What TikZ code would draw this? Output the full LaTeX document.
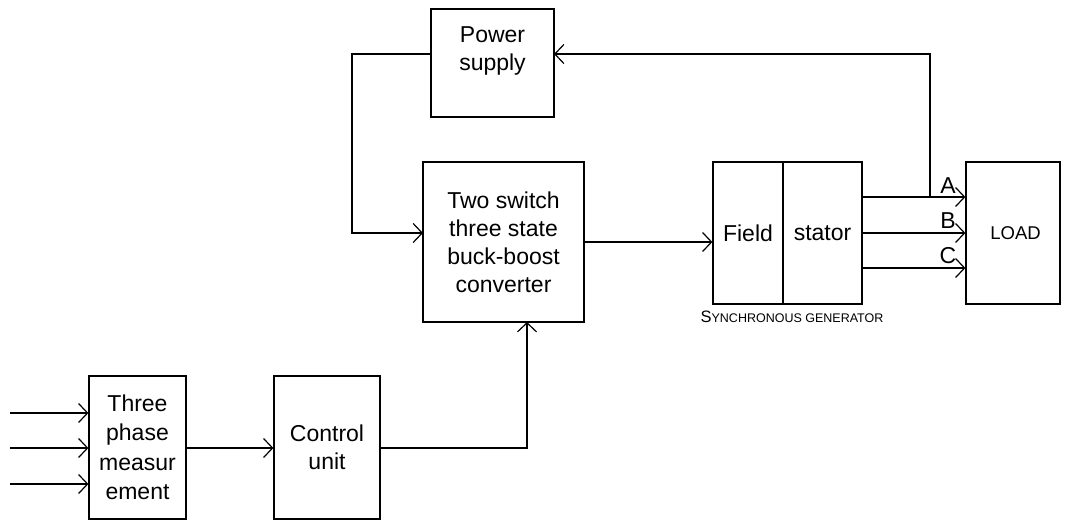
\documentclass[tikz,border=0pt]{standalone}
\usepackage{fontspec}
\setmainfont{Liberation Sans}
\usetikzlibrary{positioning,calc,arrows.meta}

\begin{document}
\begin{tikzpicture}[
    x=1pt,
    y=-1pt,
    font=\fontsize{23}{28}\selectfont,
    >={Straight Barb[length=9pt,width=19pt]},
    block/.style={
        draw,
        line width=1.2pt,
        inner sep=0pt,
        align=center
    },
    arrow/.style={
        ->,
        line width=1.2pt
    }
]
\useasboundingbox (0,0) rectangle (1067,520);

% power path
\node[block, minimum width=123pt, minimum height=108pt] (ps) at (492.5,63) {Power\\supply\\~};
\node[block, minimum width=161pt, minimum height=160pt] (conv) at (503.5,242) {Two switch\\three state\\buck-boost\\converter};

% generator
\node[block, minimum width=70pt, minimum height=142pt] (field) at (748,233) {Field};
\node[block, minimum width=79pt, minimum height=142pt] (stator) at (822.5,233) {stator};
\node[anchor=base] (genlabel) at (792,322) {{\fontsize{16.5}{16}\selectfont S}{\fontsize{12.5}{12}\selectfont YNCHRONOUS GENERATOR}};

% load
\node[block, minimum width=94pt, minimum height=142pt, font=\fontsize{18.5}{22}\selectfont] (load) at (1013,233) {\hspace*{5pt}LOAD};

% measurement and control
\node[block, minimum width=97pt, minimum height=143pt, font=\fontsize{23}{29.5}\selectfont] (meas) at (137.5,447.5) {Three\\phase\\measur\\ement};
\node[block, minimum width=106pt, minimum height=143pt] (ctrl) at (327,447.5) {Control\\unit};

% helper points
\coordinate (psout) at (431,54);
\coordinate (psin) at (554,54);
\coordinate (convin) at (423,233);
\coordinate (convbot) at (527,322);
\coordinate (outA) at (862,197);
\coordinate (outB) at (862,233);
\coordinate (outC) at (862,268);
\coordinate (tapA) at (930,197);
\coordinate (inA) at (10,413);
\coordinate (inB) at (10,448);
\coordinate (inC) at (10,484);

% connectors
\draw[arrow] (psout) -- (352,54) |- (convin);
\draw[arrow] (conv.east) -- (field.west |- conv.east);
\draw[arrow] (outA) -- (load.west |- outA);
\draw[arrow] (outB) -- (load.west |- outB);
\draw[arrow] (outC) -- (load.west |- outC);
\draw[arrow] (tapA) |- (psin);
\draw[arrow] (inA) -- (meas.west |- inA);
\draw[arrow] (inB) -- (meas.west |- inB);
\draw[arrow] (inC) -- (meas.west |- inC);
\draw[arrow] (meas.east |- inB) -- (ctrl.west |- inB);
\draw[arrow] (ctrl.east |- inB) -| (convbot);

% phase labels
\node[anchor=base] (labA) at (948,193) {A};
\node[anchor=base] (labB) at (948,228) {B};
\node[anchor=base] (labC) at (948,263) {C};

\end{tikzpicture}
\end{document}
